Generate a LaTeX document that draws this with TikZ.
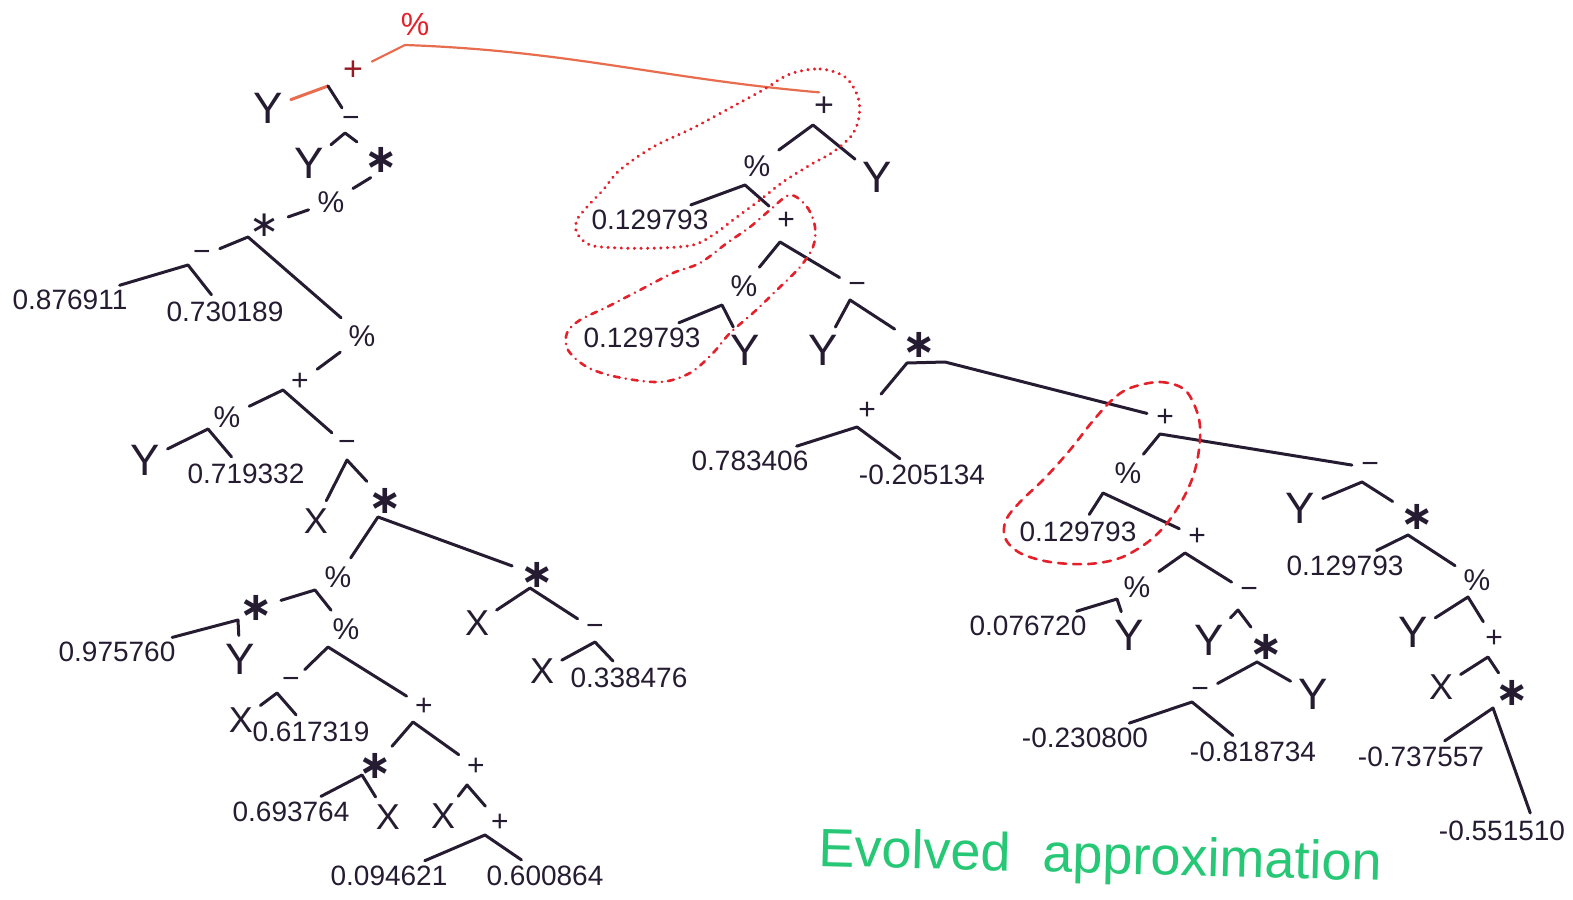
\documentclass[tikz,border=0pt]{standalone}
\usepackage{fontspec}
\setmainfont{Liberation Sans}
\newfontfamily\symfont{DejaVu Sans}
\usetikzlibrary{calc}

\definecolor{ink}{RGB}{38,28,50}
\definecolor{penred}{RGB}{228,32,42}
\definecolor{rootred}{RGB}{232,108,78}
\definecolor{opred}{RGB}{150,25,35}
\definecolor{pengreen}{RGB}{38,200,118}

\tikzset{
  num/.style={font=\fontsize{14}{14}\selectfont, text=ink, inner sep=1.5pt},
  var/.style={font=\fontsize{22}{22}\selectfont, text=ink, inner sep=1.5pt},
  varx/.style={font=\fontsize{18}{18}\selectfont, text=ink, inner sep=1.5pt},
  op/.style={font=\fontsize{15}{15}\selectfont, text=ink, inner sep=2pt},
  star/.style={font=\symfont\bfseries\fontsize{20}{20}\selectfont, text=ink, inner sep=1.5pt},
  link/.style={draw=ink, line width=1.5pt, line cap=round, line join=round,
               shorten <=2.5pt, shorten >=2.5pt},
  rlink/.style={draw=rootred, line width=1.1pt, line cap=round, line join=round,
               shorten <=2.5pt, shorten >=2.5pt},
  loopA/.style={draw=penred, line width=1.6pt, line cap=round, dash pattern=on 0.1pt off 3.2pt},
  loopB/.style={draw=penred, line width=1.3pt, line cap=round, dash pattern=on 3pt off 3pt on 0.1pt off 3pt},
  loopC/.style={draw=penred, line width=1.3pt, line cap=round, dash pattern=on 4pt off 3.5pt},
}
% a branch: left child -- apex -- right child
\newcommand\twig[3]{\draw[link] (#2) -- (#1) -- (#3);}

\begin{document}
\begin{tikzpicture}[x=0.5pt, y=-0.5pt]
\useasboundingbox (0,0) rectangle (1573,899);
\fill[white] (0,0) rectangle (1573,899);
\clip (0,0) rectangle (1573,899);

% ---------- root ----------
\node[op, text=penred, font=\fontsize{16}{16}\selectfont] (r) at (415,24) {\%};

% ---------- left subtree ----------
\node[op, text=opred, font=\fontsize{17}{17}\selectfont] (L1) at (353,71) {+};
\node[var] (L1y) at (268,108) {Y};
\node[op] (L2) at (351,122) {−};
\node[var] (L2y) at (309,163) {Y};
\node[star] (L3) at (381,160) {∗};
\node[op] (L4) at (331,202) {\%};
\node[star, font=\symfont\fontsize{18}{18}\selectfont] (L5) at (265,225) {∗};
\node[op] (L6) at (202,256) {−};
\node[num] (n1) at (70,300) {0.876911};
\node[num] (n2) at (225,312) {0.730189};
\node[op] (L7) at (362,336) {\%};
\node[op] (L8) at (300,382) {+};
\node[op] (L9) at (227,417) {\%};
\node[var] (L9y) at (145,460) {Y};
\node[num] (n3) at (246,474) {0.719332};
\node[op] (L10) at (347,446) {−};
\node[varx] (L10x) at (316,521) {X};
\node[star] (L11) at (385,501) {∗};
\node[op] (L12) at (338,577) {\%};
\node[star] (L13) at (256,608) {∗};
\node[num] (n4) at (117,652) {0.975760};
\node[var] (L13y) at (240,659) {Y};
\node[op] (L14) at (346,629) {\%};
\node[op] (L15) at (291,683) {−};
\node[varx] (L15x) at (241,720) {X};
\node[num] (n5) at (311,732) {0.617319};
\node[op] (L16) at (424,707) {+};
\node[star] (L17) at (375,766) {∗};
\node[num] (n6) at (291,812) {0.693764};
\node[varx] (L17x) at (388,817) {X};
\node[op] (L18) at (476,767) {+};
\node[varx] (L18x) at (443,816) {X};
\node[op] (L19) at (500,823) {+};
\node[num] (n7) at (389,876) {0.094621};
\node[num] (n8) at (545,876) {0.600864};
\node[star] (L20) at (537,575) {∗};
\node[varx] (L20x) at (477,623) {X};
\node[op] (L21) at (595,630) {−};
\node[varx] (L21x) at (542,671) {X};
\node[num] (n9) at (629,678) {0.338476};

% ---------- right subtree ----------
\node[op, font=\fontsize{17}{17}\selectfont] (R1) at (824,107) {+};
\node[var] (R1y) at (877,177) {Y};
\node[op] (R2) at (757,166) {\%};
\node[num] (n10) at (650,220) {0.129793};
\node[op] (R3) at (786,221) {+};
\node[op] (R4) at (744,286) {\%};
\node[num] (n11) at (642,338) {0.129793};
\node[var] (R4y) at (745,350) {Y};
\node[op] (R5) at (857,288) {−};
\node[var] (R5y) at (823,350) {Y};
\node[star] (R6) at (919,345) {∗};
\node[op] (R7) at (867,411) {+};
\node[num] (n12) at (750,461) {0.783406};
\node[num] (n13) at (922,475) {-0.205134};
\node[op] (R8) at (1165,418) {+};
\node[op] (R9) at (1128,473) {\%};
\node[num] (n14) at (1078,532) {0.129793};
\node[op] (R10) at (1197,537) {+};
\node[op] (R11) at (1137,587) {\%};
\node[num] (n15) at (1028,626) {0.076720};
\node[var] (R11y) at (1129,635) {Y};
\node[op] (R12) at (1249,593) {−};
\node[var] (R12y) at (1209,640) {Y};
\node[star] (R13) at (1266,647) {∗};
\node[op] (R14) at (1200,693) {−};
\node[num] (n16) at (1085,738) {-0.230800};
\node[num] (n17) at (1253,752) {-0.818734};
\node[var] (R13y) at (1313,694) {Y};
\node[op] (R15) at (1370,468) {−};
\node[var] (R15y) at (1300,508) {Y};
\node[star] (R16) at (1417,517) {∗};
\node[num] (n18) at (1345,566) {0.129793};
\node[op] (R17) at (1477,580) {\%};
\node[var] (R17y) at (1413,632) {Y};
\node[op] (R18) at (1494,639) {+};
\node[varx] (R18x) at (1441,687) {X};
\node[star] (R19) at (1512,693) {∗};
\node[num] (n19) at (1421,757) {-0.737557};
\node[num] (n20) at (1502,831) {-0.551510};

% ---------- apex points of the branches ----------
\coordinate (r-a) at (405,45);
\coordinate (L1-a) at (328,86);
\coordinate (L2-a) at (345,133);
\coordinate (L3-a) at (375,175);
\coordinate (L5-a) at (248,237);
\coordinate (L6-a) at (188,265);
\coordinate (L8-a) at (283,390);
\coordinate (L9-a) at (208,429);
\coordinate (L10-a) at (347,460);
\coordinate (L11-a) at (378,517);
\coordinate (L12-a) at (315,590);
\coordinate (L13-a) at (238,620);
\coordinate (L14-a) at (328,647);
\coordinate (L15-a) at (277,693);
\coordinate (L16-a) at (413,722);
\coordinate (L17-a) at (362,775);
\coordinate (L18-a) at (467,785);
\coordinate (L19-a) at (485,835);
\coordinate (L20-a) at (530,588);
\coordinate (L21-a) at (595,642);
\coordinate (R1-a) at (813,125);
\coordinate (R2-a) at (745,185);
\coordinate (R3-a) at (780,242);
\coordinate (R4-a) at (722,305);
\coordinate (R5-a) at (850,300);
\coordinate (R6-a) at (907,363);
\coordinate (R6-b) at (945,362);
\coordinate (R7-a) at (857,427);
\coordinate (R8-a) at (1160,434);
\coordinate (R9-a) at (1103,493);
\coordinate (R10-a) at (1185,553);
\coordinate (R11-a) at (1117,599);
\coordinate (R12-a) at (1238,610);
\coordinate (R13-a) at (1257,662);
\coordinate (R14-a) at (1192,702);
\coordinate (R15-a) at (1362,482);
\coordinate (R16-a) at (1408,535);
\coordinate (R17-a) at (1468,597);
\coordinate (R18-a) at (1488,657);
\coordinate (R19-a) at (1493,708);

% ---------- connectors ----------
\draw[rlink] (L1) -- (r-a) to[out=-2, in=175] (R1.north);
\draw[link, draw=rootred, shorten >=0pt] (L1y) -- (L1-a);
\draw[link, shorten <=0pt] (L1-a) -- (L2);
\twig{L2-a}{L2y}{L3}
\draw[link] (L4) -- (L3-a);
\draw[link] (L5) -- (L4);
\twig{L5-a}{L6}{L7}
\twig{L6-a}{n1}{n2}
\draw[link] (L8) -- (L7);
\twig{L8-a}{L9}{L10}
\twig{L9-a}{L9y}{n3}
\twig{L10-a}{L10x}{L11}
\twig{L11-a}{L12}{L20}
\twig{L12-a}{L13}{L14}
\twig{L13-a}{n4}{L13y}
\twig{L14-a}{L15}{L16}
\twig{L15-a}{L15x}{n5}
\twig{L16-a}{L17}{L18}
\twig{L17-a}{n6}{L17x}
\twig{L18-a}{L18x}{L19}
\twig{L19-a}{n7}{n8}
\twig{L20-a}{L20x}{L21}
\twig{L21-a}{L21x}{n9}

\twig{R1-a}{R2}{R1y}
\twig{R2-a}{n10}{R3}
\twig{R3-a}{R4}{R5}
\twig{R4-a}{n11}{R4y}
\twig{R5-a}{R5y}{R6}
\draw[link] (R7) -- (R6-a) -- (R6-b) -- (R8);
\twig{R7-a}{n12}{n13}
\twig{R8-a}{R9}{R15}
\twig{R9-a}{n14}{R10}
\twig{R10-a}{R11}{R12}
\twig{R11-a}{n15}{R11y}
\twig{R12-a}{R12y}{R13}
\twig{R13-a}{R14}{R13y}
\twig{R14-a}{n16}{n17}
\twig{R15-a}{R15y}{R16}
\twig{R16-a}{n18}{R17}
\twig{R17-a}{R17y}{R18}
\twig{R18-a}{R18x}{R19}
\draw[link] (n19) -- (R19-a) -- ($(n20.north)!0.45!(n20.north east)$);

% ---------- red marker loops ----------
\draw[loopA] plot[smooth cycle, tension=0.55] coordinates {
  (790,74) (820,69) (845,77) (858,97) (859,117) (852,135) (833,152) (810,165)
  (783,182) (760,200) (737,217) (713,235) (693,245) (660,248) (620,248)
  (590,245) (577,233) (577,220) (587,207) (603,190) (620,170) (653,147)
  (693,128) (730,108) (763,90)};
\draw[loopB] plot[smooth cycle, tension=0.55] coordinates {
  (790,195) (807,207) (815,227) (813,247) (800,267) (780,287) (753,313)
  (730,333) (713,353) (690,373) (660,382) (617,377) (587,367) (568,350)
  (567,333) (580,320) (607,307) (640,290) (673,273) (700,263) (727,243)
  (750,227) (770,210)};
\draw[loopC] plot[smooth cycle, tension=0.55] coordinates {
  (1130,388) (1160,382) (1185,390) (1198,415) (1200,440) (1195,470)
  (1185,495) (1168,522) (1148,542) (1120,558) (1088,564) (1050,562)
  (1020,553) (1005,538) (1006,520) (1020,502) (1045,478) (1070,450)
  (1092,422) (1112,400)};

% ---------- caption ----------
\node[anchor=base west, rotate=-1.5, text=pengreen, inner sep=0pt,
      font=\fontsize{27}{27}\selectfont] (cap) at (818,866)
      {Evolved\hspace{16pt}approximation};
\end{tikzpicture}
\end{document}
